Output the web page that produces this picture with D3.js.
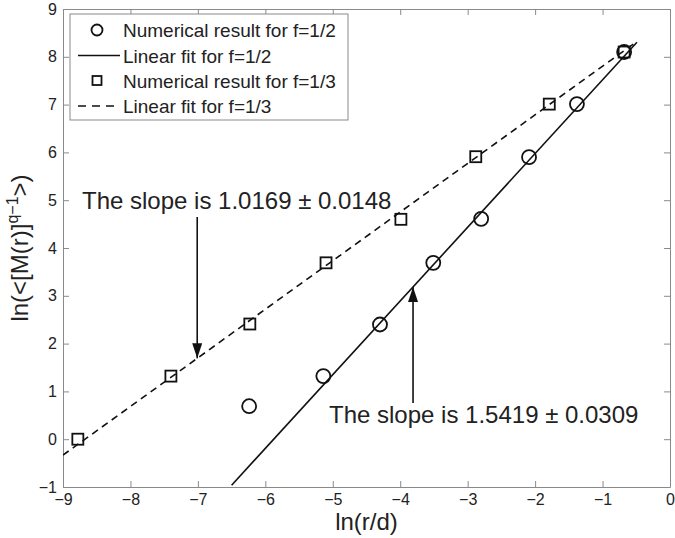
<html>
  <head>
    <meta charset="utf-8">
    <title>ln M vs ln r/d</title>
    <script src="https://cdn.jsdelivr.net/npm/d3@7"></script>
    <style>
      body { margin: 0; background: #fff; }
      text { font-family: Arial, "Liberation Sans", sans-serif; fill: #222; }
    </style>
  </head>
  <body>
    <svg></svg>
    <script>
      'use strict';

      // numerical results
      let halfX = [-6.24, -5.14, -4.30, -3.51, -2.80, -2.09, -1.38, -0.68];
      let halfY = [0.69, 1.32, 2.40, 3.69, 4.61, 5.90, 7.01, 8.10];
      let thirdX = [-8.78, -7.40, -6.23, -5.10, -3.99, -2.88, -1.79, -0.68];
      let thirdY = [0.00, 1.32, 2.41, 3.69, 4.60, 5.91, 7.01, 8.10];

      // fitted lines: slope, intercept, x range
      let fitHalf = { slope: 1.5419, icpt: 9.06, x0: -6.5, x1: -0.49 };
      let fitThird = { slope: 1.0169, icpt: 8.82, x0: -9, x1: -0.49 };

      let xTicks = [-9, -8, -7, -6, -5, -4, -3, -2, -1, 0];
      let yTicks = [-1, 0, 1, 2, 3, 4, 5, 6, 7, 8, 9];
      let legendLabels = ['Numerical result for f=1/2', 'Linear fit for f=1/2',
        'Numerical result for f=1/3', 'Linear fit for f=1/3'];

      let w = 675, h = 538;
      let pL = 63, pR = 670, pT = 9, pB = 487;
      let axisColor = '#8a8a8a';

      let svg = d3.select('svg').attr('width', w).attr('height', h);

      let x = d3.scaleLinear().domain([-9, 0]).range([pL, pR]);
      let y = d3.scaleLinear().domain([-1, 9]).range([pB, pT]);

      svg.append('clipPath').attr('id', 'clip')
        .append('rect').attr('x', pL).attr('y', pT)
        .attr('width', pR - pL).attr('height', pB - pT);

      // axes with inward ticks on all four sides
      function styleAxis(g, showText) {
        g.select('.domain').attr('stroke', axisColor);
        g.selectAll('.tick line').attr('stroke', axisColor);
        g.selectAll('.tick text').attr('font-size', 16).attr('fill', '#222')
          .style('display', showText ? null : 'none');
      }
      let fmt = d => d < 0 ? '\u2212' + Math.abs(d) : String(d);

      svg.append('g').attr('transform', 'translate(0,' + pB + ')')
        .call(d3.axisBottom(x).tickValues(xTicks).tickFormat(fmt).tickSize(-6).tickSizeOuter(0).tickPadding(7))
        .call(g => styleAxis(g, true));
      svg.append('g').attr('transform', 'translate(0,' + pT + ')')
        .call(d3.axisTop(x).tickValues(xTicks).tickSize(-6).tickSizeOuter(0))
        .call(g => styleAxis(g, false));
      svg.append('g').attr('transform', 'translate(' + pL + ',0)')
        .call(d3.axisLeft(y).tickValues(yTicks).tickFormat(fmt).tickSize(-6).tickSizeOuter(0).tickPadding(6))
        .call(g => styleAxis(g, true));
      svg.append('g').attr('transform', 'translate(' + pR + ',0)')
        .call(d3.axisRight(y).tickValues(yTicks).tickSize(-6).tickSizeOuter(0))
        .call(g => styleAxis(g, false));

      // fit lines
      let plot = svg.append('g').attr('clip-path', 'url(#clip)');
      let line = d3.line().x(d => x(d[0])).y(d => y(d[1]));
      function fitPts(f) {
        return [[f.x0, f.slope * f.x0 + f.icpt], [f.x1, f.slope * f.x1 + f.icpt]];
      }
      plot.append('path').datum(fitPts(fitThird)).attr('d', line)
        .attr('fill', 'none').attr('stroke', '#111').attr('stroke-width', 1.6)
        .attr('stroke-dasharray', '7,5');
      plot.append('path').datum(fitPts(fitHalf)).attr('d', line)
        .attr('fill', 'none').attr('stroke', '#111').attr('stroke-width', 1.6);

      // markers
      plot.selectAll('rect.sq').data(d3.zip(thirdX, thirdY)).enter().append('rect')
        .attr('class', 'sq')
        .attr('x', d => x(d[0]) - 5.5).attr('y', d => y(d[1]) - 5.5)
        .attr('width', 11).attr('height', 11)
        .attr('fill', 'none').attr('stroke', '#111').attr('stroke-width', 1.8);
      plot.selectAll('circle.ci').data(d3.zip(halfX, halfY)).enter().append('circle')
        .attr('class', 'ci')
        .attr('cx', d => x(d[0])).attr('cy', d => y(d[1])).attr('r', 7)
        .attr('fill', 'none').attr('stroke', '#111').attr('stroke-width', 1.8);

      // arrows and slope notes
      function arrow(xv, yFrom, yTip) {
        let px = x(xv);
        svg.append('line').attr('x1', px).attr('x2', px)
          .attr('y1', yFrom).attr('y2', yTip)
          .attr('stroke', '#111').attr('stroke-width', 1.6);
        let dir = yTip > yFrom ? -1 : 1;
        svg.append('path')
          .attr('d', 'M' + px + ',' + yTip + 'L' + (px - 5) + ',' + (yTip + dir * 15) +
            'L' + (px + 5) + ',' + (yTip + dir * 15) + 'Z')
          .attr('fill', '#111');
      }
      arrow(-7.01, 217, y(fitThird.slope * -7.01 + fitThird.icpt));
      arrow(-3.81, 403, y(fitHalf.slope * -3.81 + fitHalf.icpt));

      svg.append('text').attr('x', 82).attr('y', 209).attr('font-size', 24)
        .text('The slope is 1.0169 \u00b1 0.0148');
      svg.append('text').attr('x', 329).attr('y', 423).attr('font-size', 24)
        .text('The slope is 1.5419 \u00b1 0.0309');

      // axis titles
      svg.append('text').attr('x', (pL + pR) / 2).attr('y', 530)
        .attr('text-anchor', 'middle').attr('font-size', 24).text('ln(r/d)');
      let yl = svg.append('text')
        .attr('transform', 'translate(28,' + (pT + pB) / 2 + ') rotate(-90)')
        .attr('text-anchor', 'middle').attr('font-size', 24);
      yl.append('tspan').text('ln(<[M(r)]');
      yl.append('tspan').attr('font-size', 16).attr('dy', -10).text('q\u22121');
      yl.append('tspan').attr('dy', 10).text('>)');

      // legend
      let lg = svg.append('g');
      lg.append('rect').attr('x', 70).attr('y', 14).attr('width', 278).attr('height', 106)
        .attr('fill', '#fff').attr('stroke', axisColor).attr('stroke-width', 1);
      let rowY = [30, 55.5, 80.5, 106];
      lg.append('circle').attr('cx', 97).attr('cy', rowY[0]).attr('r', 5.5)
        .attr('fill', 'none').attr('stroke', '#111').attr('stroke-width', 1.8);
      lg.append('line').attr('x1', 78).attr('x2', 120).attr('y1', rowY[1]).attr('y2', rowY[1])
        .attr('stroke', '#111').attr('stroke-width', 1.6);
      lg.append('rect').attr('x', 97 - 4.5).attr('y', rowY[2] - 4.5).attr('width', 9).attr('height', 9)
        .attr('fill', 'none').attr('stroke', '#111').attr('stroke-width', 1.8);
      lg.append('line').attr('x1', 78).attr('x2', 120).attr('y1', rowY[3]).attr('y2', rowY[3])
        .attr('stroke', '#111').attr('stroke-width', 1.6).attr('stroke-dasharray', '8,6');
      lg.selectAll('text').data(legendLabels).enter().append('text')
        .attr('x', 123).attr('y', (d, i) => rowY[i] + 7)
        .attr('font-size', 19).text(d => d);
    </script>
  </body>
</html>
